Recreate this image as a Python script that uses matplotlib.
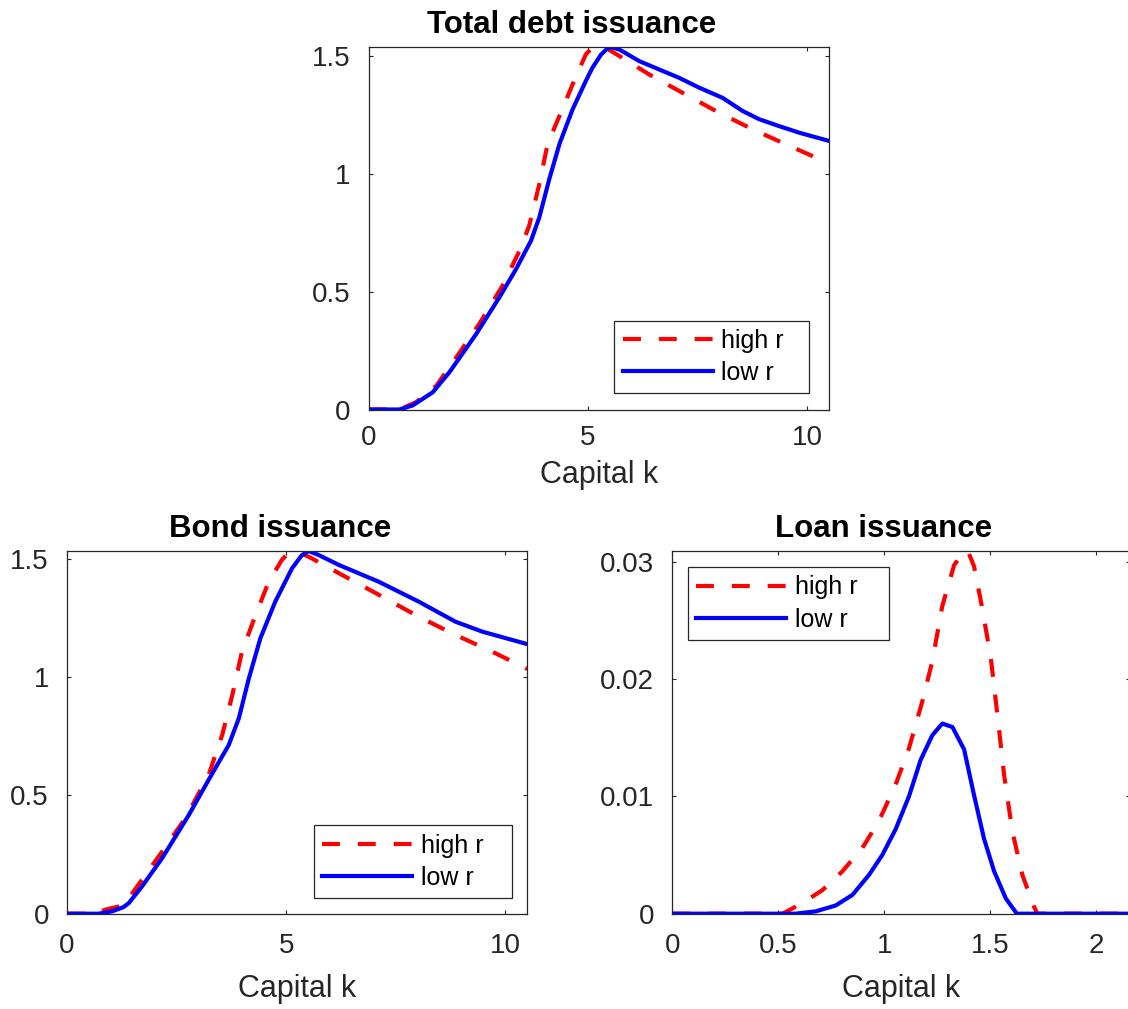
import matplotlib.pyplot as plt

plt.rcParams['font.family'] = ['Liberation Sans', 'DejaVu Sans']

# total debt issuance
k_total_high = [0, 0.7, 1.08, 1.54, 2.0, 2.52, 3.05, 3.44, 3.66, 3.89, 4.08, 4.35,
                4.65, 4.95, 5.05, 5.18, 5.3, 5.41, 5.72, 6.4, 7.23, 7.99, 8.75, 9.51, 10.12, 10.5]
total_high = [0, 0, 0.031, 0.10, 0.222, 0.363, 0.525, 0.674, 0.78, 0.956, 1.127, 1.246,
              1.38, 1.507, 1.527, 1.539, 1.541, 1.535, 1.5, 1.422, 1.337, 1.26, 1.19, 1.126, 1.076, 1.041]
k_total_low = [0, 0.7, 1.0, 1.46, 1.84, 2.45, 2.98, 3.36, 3.7, 3.89, 4.12, 4.35, 4.65,
               4.95, 5.1, 5.3, 5.43, 5.52, 5.72, 6.17, 6.63, 7.08, 7.54, 8.07, 8.53, 8.91, 9.36, 9.82, 10.5]
total_low = [0, 0, 0.017, 0.073, 0.158, 0.32, 0.476, 0.596, 0.716, 0.815, 0.979, 1.127, 1.274,
             1.394, 1.45, 1.507, 1.53, 1.538, 1.528, 1.479, 1.443, 1.408, 1.366, 1.323, 1.267,
             1.232, 1.203, 1.175, 1.14]

# bond issuance
k_bond_high = [0, 0.7, 0.87, 1.29, 1.63, 2.17, 2.7, 3.23, 3.54, 3.77, 3.99, 4.3, 4.6,
               4.9, 5.02, 5.13, 5.25, 5.51, 6.35, 7.19, 8.02, 8.86, 9.7, 10.5]
bond_high = [0, 0, 0.017, 0.035, 0.123, 0.263, 0.404, 0.587, 0.756, 0.925, 1.108, 1.263, 1.404,
             1.496, 1.52, 1.531, 1.53, 1.51, 1.425, 1.341, 1.256, 1.179, 1.108, 1.035]
k_bond_low = [0, 0.72, 1.03, 1.29, 1.41, 1.71, 2.17, 2.78, 3.23, 3.69, 3.92, 4.14, 4.41,
              4.75, 5.13, 5.35, 5.51, 5.74, 6.2, 7.11, 8.02, 8.86, 9.47, 10.15, 10.5]
bond_low = [0, 0, 0.01, 0.028, 0.045, 0.115, 0.235, 0.418, 0.566, 0.714, 0.827, 0.99, 1.165,
            1.32, 1.46, 1.515, 1.534, 1.517, 1.475, 1.404, 1.32, 1.235, 1.193, 1.158, 1.14]

# loan issuance
k_loan_high = [0, 0.52, 0.613, 0.708, 0.802, 0.897, 0.975, 1.054, 1.117, 1.18, 1.227, 1.274,
               1.33, 1.37, 1.395, 1.424, 1.463, 1.503, 1.534, 1.566, 1.605, 1.652, 1.707, 1.723, 2.16]
loan_high = [0, 0, 0.0009, 0.002, 0.0036, 0.0056, 0.0079, 0.011, 0.0141, 0.0181, 0.0215, 0.0262,
             0.0297, 0.0307, 0.0309, 0.0296, 0.026, 0.0218, 0.017, 0.0118, 0.007, 0.0033, 0.0006, 0, 0]
k_loan_low = [0, 0.58, 0.677, 0.771, 0.85, 0.928, 0.991, 1.054, 1.117, 1.172, 1.227, 1.274,
              1.322, 1.377, 1.424, 1.471, 1.519, 1.574, 1.626, 2.16]
loan_low = [0, 0, 0.0002, 0.0007, 0.0016, 0.0033, 0.005, 0.0072, 0.01, 0.0131, 0.0152, 0.0162,
            0.0159, 0.014, 0.0101, 0.0064, 0.0036, 0.0013, 0, 0]

labels = ['high r', 'low r']
ink = '#262626'


def draw_panel(ax, kh, yh, kl, yl, title, title_x, xticks, xticklabels, yticks, yticklabels,
               xmax, legend_box, xpad, labelpad):
    ax.plot(kh, yh, color='#ff0000', lw=3, ls=(0, (4.3, 4.3)), dash_capstyle='butt', label=labels[0])
    ax.plot(kl, yl, color='#0000ff', lw=3, label=labels[1])
    ax.set_xlim(0, xmax)
    ax.set_ylim(0, max(max(yh), max(yl)))
    ax.set_xticks(xticks)
    ax.set_xticklabels(xticklabels)
    ax.set_yticks(yticks)
    ax.set_yticklabels(yticklabels)
    ax.tick_params(direction='in', top=True, right=True, length=3.2, width=0.8,
                   labelsize=20, colors=ink)
    ax.tick_params(axis='x', pad=xpad)
    ax.tick_params(axis='y', pad=13)
    for s in ax.spines.values():
        s.set_color(ink)
        s.set_linewidth(0.9)
    ax.set_xlabel('Capital k', fontsize=22, color=ink, labelpad=labelpad)
    ax.set_title(title, fontsize=22.5, fontweight='bold', x=title_x, pad=10)
    # legend stretched to a fixed box width, entries stay on the left
    leg = ax.legend(loc='lower left', bbox_to_anchor=legend_box, mode='expand', borderaxespad=0,
                    fontsize=18, fancybox=False, framealpha=1, edgecolor=ink,
                    handlelength=3.6, handletextpad=0.35, labelspacing=0.33,
                    borderpad=0.33)
    leg.get_frame().set_linewidth(0.9)


fig = plt.figure(figsize=(11.28, 10.09), dpi=100)
W, H = 1128, 1009

ax_top = fig.add_axes([368.7 / W, 1 - 409.5 / H, 460.4 / W, 363 / H])
ax_bond = fig.add_axes([67 / W, 1 - 913.7 / H, 460.4 / W, 362.7 / H])
ax_loan = fig.add_axes([672.3 / W, 1 - 913.7 / H, 457.7 / W, 362.7 / H])

draw_panel(ax_top, k_total_high, total_high, k_total_low, total_low,
           'Total debt issuance', 0.4405, [0, 5, 10], ['0', '5', '10'],
           [0, 0.5, 1, 1.5], ['0', '0.5', '1', '1.5'], 10.5,
           (0.5334, 0.0446, 0.4236, 0.2), 11, 7)
draw_panel(ax_bond, k_bond_high, bond_high, k_bond_low, bond_low,
           'Bond issuance', 0.4626, [0, 5, 10], ['0', '5', '10'],
           [0, 0.5, 1, 1.5], ['0', '0.5', '1', '1.5'], 10.5,
           (0.536, 0.043, 0.4305, 0.2), 14, 10.5)
draw_panel(ax_loan, k_loan_high, loan_high, k_loan_low, loan_low,
           'Loan issuance', 0.4625, [0, 0.5, 1, 1.5, 2], ['0', '0.5', '1', '1.5', '2'],
           [0, 0.01, 0.02, 0.03], ['0', '0.01', '0.02', '0.03'], 2.16,
           (0.0343, 0.755, 0.439, 0.2), 14, 10.5)

fig.savefig('out.png', dpi=100)
